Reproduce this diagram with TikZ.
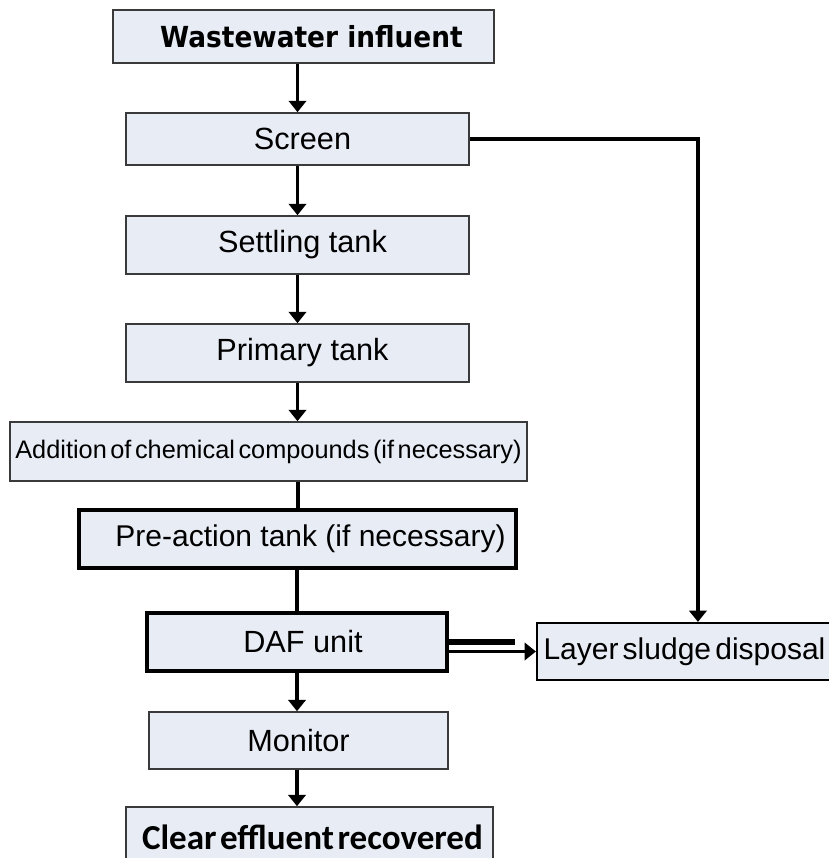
\documentclass[tikz,border=0pt]{standalone}
\usepackage{fontspec}
\setmainfont{Liberation Sans}
\newfontfamily\tahfont[FakeStretch=0.91]{DejaVu Sans}
\newfontfamily\calfont{Carlito}
\usetikzlibrary{arrows.meta}
\definecolor{boxfill}{HTML}{E8ECF5}
\definecolor{boxline}{HTML}{3A3A3A}
\newcommand\tightsp{\spaceskip 0.14em plus 0.05em\relax}
\newcommand\vtightsp{\spaceskip 0.1em plus 0.05em\relax}
\begin{document}
\begin{tikzpicture}[x=0.75pt,y=-0.75pt,
  thinbox/.style={draw=boxline, line width=1.2pt, fill=boxfill, inner sep=0pt, anchor=center},
  thickbox/.style={draw=black, line width=3pt, fill=boxfill, inner sep=0pt, anchor=center},
  medbox/.style={draw=black, line width=1.6pt, fill=boxfill, inner sep=0pt, anchor=center},
  flow/.style={line width=2.7pt, -{Triangle[length=8.5pt,width=13pt]}},
  plainline/.style={line width=3pt},
  arial/.style={font=\fontsize{23}{26}\selectfont},
  tight/.style={font={\fontsize{#1}{26}\selectfont\tightsp}}]
\useasboundingbox (0,0) rectangle (829,858);
\begin{scope}
\clip (0,0) rectangle (829,858);

\node[thinbox, minimum width={381*0.75pt}, minimum height={53*0.75pt},
  font=\tahfont\bfseries\fontsize{21.75}{26}\selectfont] (ww) at (303.5,36.5) {\hspace*{12pt}Wastewater influent};
\node[thinbox, arial, minimum width={343*0.75pt}, minimum height={52*0.75pt}] (scr) at (297.5,139) {\hspace*{7.5pt}Screen};
\node[thinbox, arial, minimum width={343*0.75pt}, minimum height={58*0.75pt}] (set) at (297.5,245) {\hspace*{7.5pt}Settling tank};
\node[thinbox, arial, minimum width={343*0.75pt}, minimum height={58*0.75pt}] (pri) at (297.5,353) {\hspace*{7.5pt}Primary tank};
\node[thinbox, tight=19, minimum width={517*0.75pt}, minimum height={59*0.75pt}] (add) at (268.5,451.5) {Addition of chemical compounds (if necessary)};
\node[thickbox, font=\fontsize{22.5}{26}\selectfont, minimum width={437*0.75pt}, minimum height={58*0.75pt}] (pre) at (297.5,539) {\hspace*{19.5pt}Pre-action tank (if necessary)};
\node[thickbox, arial, minimum width={300*0.75pt}, minimum height={58*0.75pt}] (daf) at (297,642) {\hspace*{9pt}DAF unit};
\node[medbox, tight=22.5, minimum width={295*0.75pt}, minimum height={57*0.75pt}] (lay) at (684.5,651.5) {Layer sludge disposal};
\node[thinbox, arial, minimum width={299*0.75pt}, minimum height={57*0.75pt}] (mon) at (298.5,740.5) {Monitor};
\node[thinbox, font={\calfont\bfseries\fontsize{26.3}{28}\selectfont\vtightsp}, minimum width={367*0.75pt}, minimum height={63*0.75pt}] (clr) at (309.5,838.5) {\hspace*{4.5pt}\raisebox{2.6pt}{Clear effluent recovered}};

\coordinate (thk) at (515,642);

\draw[flow] (ww.south -| scr.north) -- (scr.north);
\draw[flow] (scr.south) -- (set.north);
\draw[flow] (set.south) -- (pri.north);
\draw[flow] (pri.south) -- (pri.south |- add.north);
\draw[plainline] (pri.south |- add.south) -- (pri.south |- pre.north);
\draw[line width=3.6pt] (pre.south -| daf.north) -- (daf.north);
\draw[flow] (daf.south) -- (daf.south |- mon.north);
\draw[flow] (mon.south -| daf.south) -- (daf.south |- clr.north);
\draw[flow, line width=3pt] (scr.east) -| ([xshift=10.1pt]lay.north);
\draw[line width=4.8pt] (daf.east) -- (thk);
\draw[flow, line width=2.2pt] (daf.east |- lay.west) -- (lay.west);
\end{scope}
\end{tikzpicture}
\end{document}
